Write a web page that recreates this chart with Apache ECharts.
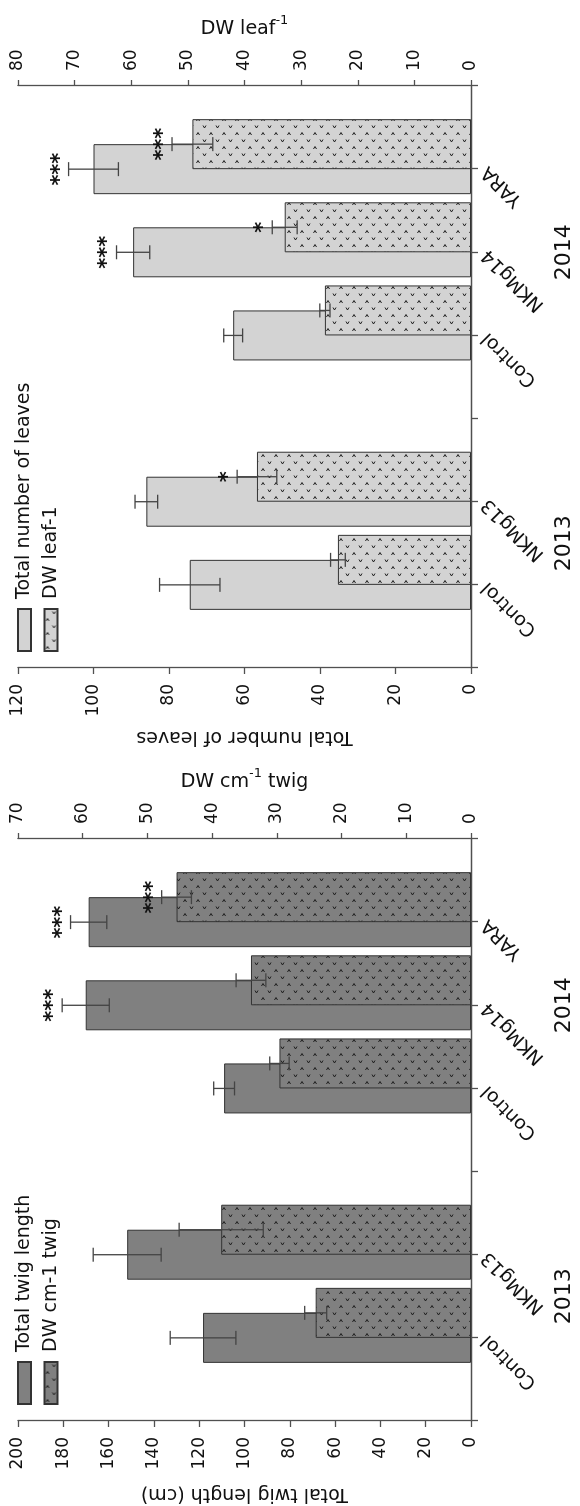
<!DOCTYPE html>
<html>
<head>
<meta charset="utf-8">
<script src="https://cdn.jsdelivr.net/npm/echarts@6/dist/echarts.min.js"></script>
<style>
html,body{margin:0;padding:0;background:#fff;}
body{width:580px;height:1506px;position:relative;overflow:hidden;}
.panel{position:absolute;left:0;width:753px;height:580px;transform-origin:0 0;transform:translate(0,753px) rotate(-90deg);}
#leafChart{top:0;}
#twigChart{top:753px;}
</style>
</head>
<body>
<div id="leafChart" class="panel"></div>
<div id="twigChart" class="panel"></div>
<script>
const categories = ['', 'Control', 'NKMg13', '', 'Control', 'NKMg14', 'YARA', '']
const yearLabels = ['', '', '', '2013', '', '', '', '', '', '', '2014', '', '', '', '']

/** 上图: 叶片数 + DW leaf-1 */
const leafCount    = [null, 74.5, 86.0, null, 63.0, 89.5, 100.0, null]
const leafCountErr = [null, 8.0, 3.0, null, 2.5, 4.4, 6.6, null]
const leafCountSig = ['', '', '', '', '', '***', '***', '']
const dwLeaf       = [null, 23.5, 37.8, null, 25.8, 32.9, 49.2, null]
const dwLeafErr    = [null, 1.3, 3.5, null, 0.9, 2.2, 3.6, null]
const dwLeafSig    = ['', '', '*', '', '', '*', '***', '']

/** 下图: 枝条长度 + DW cm-1 twig */
const twigLen      = [null, 118.3, 151.8, null, 109.0, 170.1, 168.8, null]
const twigLenErr   = [null, 14.5, 15.0, null, 4.6, 10.4, 8.0, null]
const twigLenSig   = ['', '', '', '', '', '***', '***', '']
const dwTwig       = [null, 24.0, 38.6, null, 29.6, 34.0, 45.5, null]
const dwTwigErr    = [null, 1.7, 6.5, null, 1.5, 2.3, 2.3, null]
const dwTwigSig    = ['', '', '', '', '', '', '***', '']

const FONT = '"DejaVu Sans", Verdana, sans-serif'
const BAR_W = 50
const AXIS_COLOR = '#505050'

/*************************填充图案************************/
function makePattern(base){
    let c = document.createElement('canvas')
    c.width = 14; c.height = 13
    let ctx = c.getContext('2d')
    ctx.fillStyle = base
    ctx.fillRect(0, 0, 14, 13)
    ctx.strokeStyle = '#1e1e1e'
    ctx.lineWidth = 1
    ctx.beginPath()
    ctx.moveTo(2, 1.5); ctx.lineTo(4.5, 3); ctx.lineTo(2, 4.5)
    ctx.moveTo(11.5, 8); ctx.lineTo(9, 9.5); ctx.lineTo(11.5, 11)
    ctx.stroke()
    return c
}

/*************************误差线 + 显著性************************/
function errSeries(vals, errs, sig, yIdx, shift, z){
    let data = []
    vals.forEach((v, i) => { if(v != null) data.push([i, v, errs[i]]) })
    let lineStyle = {stroke: '#444', lineWidth: 1.3}
    return {
        type: 'custom', xAxisIndex: 0, yAxisIndex: yIdx, z: z, silent: true,
        data: data,
        encode: {x: 0, y: 1},
        renderItem: (params, api) => {
            let i = api.value(0), v = api.value(1), e = api.value(2)
            let hi = api.coord([i, v + e]), lo = api.coord([i, v - e])
            let x = hi[0] + shift
            let children = [
                {type: 'line', shape: {x1: x, y1: hi[1], x2: x, y2: lo[1]}, style: lineStyle},
                {type: 'line', shape: {x1: x - 7, y1: hi[1], x2: x + 7, y2: hi[1]}, style: lineStyle},
                {type: 'line', shape: {x1: x - 7, y1: lo[1], x2: x + 7, y2: lo[1]}, style: lineStyle}
            ]
            if(sig[i]){
                children.push({type: 'text', style: {
                    text: sig[i], x: x, y: hi[1] + 2, align: 'center', verticalAlign: 'bottom',
                    font: 'bold 21px ' + FONT, fill: '#111'
                }})
            }
            return {type: 'group', children: children}
        }
    }
}

/*************************渲染面板************************/
function makePanel(dom, cfg){
    let chart = echarts.init(dom)
    let axisLine = {show: true, lineStyle: {color: AXIS_COLOR, width: 1.3}}
    let axisTick = {show: true, length: 6, lineStyle: {color: AXIS_COLOR, width: 1.3}}
    let nameStyle = {fontFamily: FONT, fontSize: 19, color: '#111'}
    chart.setOption({
        animation: false,
        textStyle: {fontFamily: FONT},
        grid: {left: 85, right: 86, top: 18, bottom: 109, outerBoundsMode: 'none'},
        legend: {
            orient: 'vertical', left: 96, top: 10, itemWidth: 42, itemHeight: 13, itemGap: 7.5,
            icon: 'rect', data: [cfg.nameA, cfg.nameB],
            textStyle: {fontFamily: FONT, fontSize: 19, color: '#111', padding: [0, 0, 0, 5]}
        },
        xAxis: [
            {type: 'category', data: categories, boundaryGap: false, position: 'bottom',
             axisLine: axisLine, axisTick: {show: true, length: 7, interval: 0, lineStyle: {color: AXIS_COLOR, width: 1.3}},
             axisLabel: {interval: 0, rotate: 45, margin: 14, fontFamily: FONT, fontSize: 19, color: '#111'},
             splitLine: {show: false}},
            {type: 'category', data: categories, boundaryGap: false, show: false},
            {type: 'category', data: yearLabels, boundaryGap: false, position: 'bottom',
             axisLine: {show: false}, axisTick: {show: false}, splitLine: {show: false},
             axisLabel: {interval: 0, margin: 82, fontFamily: FONT, fontSize: 22, color: '#111'}}
        ],
        yAxis: [
            {type: 'value', min: 0, max: cfg.maxA, interval: cfg.stepA, position: 'left',
             axisLine: axisLine, axisTick: axisTick, splitLine: {show: false},
             axisLabel: {margin: 16, fontFamily: FONT, fontSize: 17, color: '#111'},
             name: cfg.titleA, nameLocation: 'middle', nameRotate: 90, nameGap: cfg.gapA, nameTextStyle: nameStyle},
            {type: 'value', min: 0, max: cfg.maxB, interval: 10, position: 'right',
             axisLine: axisLine, axisTick: axisTick, splitLine: {show: false},
             axisLabel: {margin: 15, fontFamily: FONT, fontSize: 17, color: '#111'},
             name: cfg.titleB, nameLocation: 'middle', nameRotate: -90, nameGap: cfg.gapB,
             nameTextStyle: Object.assign({lineHeight: 24, rich: {
                 t: {fontFamily: FONT, fontSize: 19, color: '#111', lineHeight: 24, verticalAlign: 'bottom'},
                 sup: {fontFamily: FONT, fontSize: 13, color: '#111', lineHeight: 13, verticalAlign: 'top'}
             }}, nameStyle)}
        ],
        series: [
            {name: cfg.nameA, type: 'bar', xAxisIndex: 0, yAxisIndex: 0, barWidth: BAR_W, z: 2,
             data: cfg.valsA, itemStyle: {color: cfg.base, borderColor: '#333', borderWidth: 1}},
            errSeries(cfg.valsA, cfg.errA, cfg.sigA, 0, 0, 3),
            {name: 'dummy', type: 'bar', xAxisIndex: 1, yAxisIndex: 1, barWidth: BAR_W, barGap: '0%', z: 1,
             data: cfg.valsB.map(() => null), silent: true, itemStyle: {color: 'transparent'}},
            {name: cfg.nameB, type: 'bar', xAxisIndex: 1, yAxisIndex: 1, barWidth: BAR_W, barGap: '0%', z: 4,
             data: cfg.valsB,
             itemStyle: {color: {image: makePattern(cfg.base), repeat: 'repeat'}, borderColor: '#333', borderWidth: 1}},
            errSeries(cfg.valsB, cfg.errB, cfg.sigB, 1, BAR_W / 2, 5)
        ]
    })
    return chart
}

makePanel(document.getElementById('leafChart'), {
    base: '#d3d3d3',
    nameA: 'Total number of leaves', nameB: 'DW leaf-1',
    titleA: 'Total number of leaves', titleB: '{t|DW leaf}{sup|-1}',
    maxA: 120, stepA: 20, maxB: 80, gapA: 48, gapB: 47,
    valsA: leafCount, errA: leafCountErr, sigA: leafCountSig,
    valsB: dwLeaf, errB: dwLeafErr, sigB: dwLeafSig
})

makePanel(document.getElementById('twigChart'), {
    base: '#808080',
    nameA: 'Total twig length', nameB: 'DW cm-1 twig',
    titleA: 'Total twig length (cm)', titleB: '{t|DW cm}{sup|-1}{t| twig}',
    maxA: 200, stepA: 20, maxB: 70, gapA: 63, gapB: 37,
    valsA: twigLen, errA: twigLenErr, sigA: twigLenSig,
    valsB: dwTwig, errB: dwTwigErr, sigB: dwTwigSig
})
</script>
</body>
</html>
